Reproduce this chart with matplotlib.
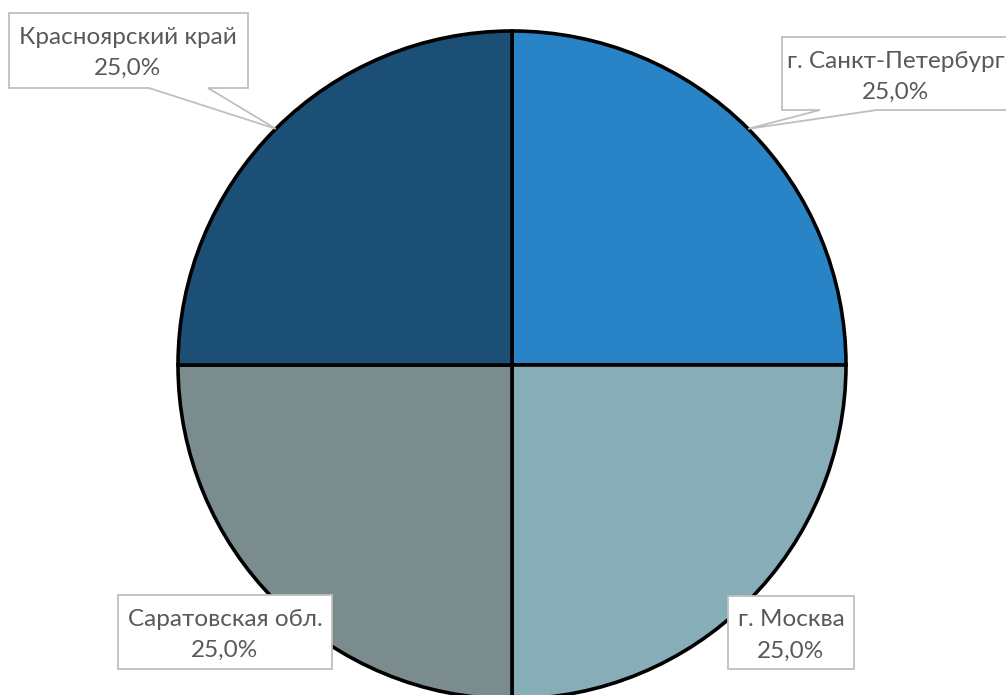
import matplotlib
matplotlib.use("Agg")
import matplotlib.pyplot as plt
from matplotlib.patches import Polygon
import numpy as np

categories = ["г. Санкт-Петербург", "г. Москва", "Саратовская обл.", "Красноярский край"]
values = [25.0, 25.0, 25.0, 25.0]
colors = ["#2884C6", "#87ADB8", "#7A8C8E", "#1B4F76"]

W, H = 1006, 695
fig = plt.figure(figsize=(W / 100, H / 100), dpi=100)
ax = fig.add_axes([0, 0, 1, 1])

cx, cy_pix, R = 512, 365, 334
cy = H - cy_pix

wedges, _ = ax.pie(values, colors=colors, startangle=90, counterclock=False,
                   center=(cx, cy), radius=R, frame=True,
                   wedgeprops=dict(edgecolor="black", linewidth=2.6))
ax.set_xlim(0, W)
ax.set_ylim(0, H)
ax.set_aspect("equal")
ax.axis("off")

# label boxes in pixel coords (top-left origin): x0, y0, x1, y1, tail base (xa, xb) or None, text centre x
boxes = [
    (782, 37, 1012, 110, (820, 877), 896),
    (728, 596, 854, 669, None, 791),
    (118, 595, 332, 669, None, 225),
    (9, 13, 248, 88, (149, 208), 128),
]

font = ["Lato", "DejaVu Sans"]
fs = 17.5
for w, cat, v, (x0, y0, x1, y1, tail, tx) in zip(wedges, categories, values, boxes):
    mid = np.deg2rad((w.theta1 + w.theta2) / 2)
    tip_pix = (cx + R * np.cos(mid), H - (cy + R * np.sin(mid)))
    if tail is not None:
        xa, xb = tail
        pts = [(x0, y0), (x1, y0), (x1, y1), (xb, y1), tip_pix, (xa, y1), (x0, y1)]
    else:
        pts = [(x0, y0), (x1, y0), (x1, y1), (x0, y1)]
    poly = Polygon([(px, H - py) for px, py in pts], closed=True, facecolor="white",
                   edgecolor="#BFBFBF", linewidth=1.3, zorder=5, clip_on=False)
    ax.add_patch(poly)
    ax.text(tx, H - (y0 + 24), cat, ha="center", va="center", fontsize=fs,
            color="#595959", family=font, zorder=6)
    ax.text(tx, H - (y0 + 55), f"{v:.1f}%".replace(".", ","), ha="center", va="center",
            fontsize=fs, color="#595959", family=font, zorder=6)

fig.savefig("out.png", dpi=100)
